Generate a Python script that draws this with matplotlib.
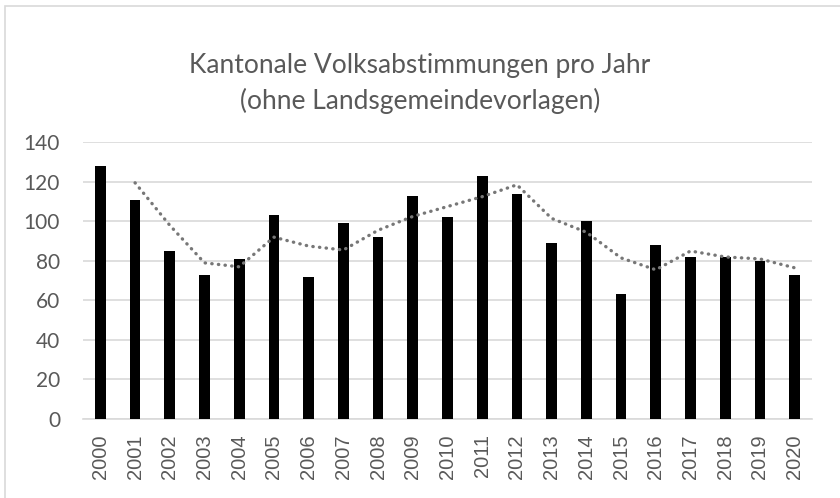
import matplotlib.pyplot as plt
from matplotlib.patches import Rectangle

years = [str(y) for y in range(2000, 2021)]
votes = [128, 111, 85, 73, 81, 103, 72, 99, 92, 113, 102,
         123, 114, 89, 100, 63, 88, 82, 82, 80, 73]
# gleitender Durchschnitt (2 Perioden), ab 2001
trend_years = years[1:]
trend = [119.5, 98, 79, 77, 92, 87.5, 85.5, 95.5, 102.5, 107.5,
         112.5, 118.5, 101.5, 94.5, 81.5, 75.5, 85, 82, 81, 76.5]

W, H = 840, 498
fig = plt.figure(figsize=(W / 100, H / 100), dpi=100)

# Rahmen (nur oben und links sichtbar)
fig.patches.append(Rectangle((5 / W, -0.1), 1.2, 1.1 - 6.5 / H,
                             transform=fig.transFigure, fill=False,
                             edgecolor='#d9d9d9', lw=1.2))

ax = fig.add_axes([83 / W, (H - 419) / H, (812 - 83) / W, (419 - 142.3) / H])
x = range(len(years))
ax.bar(x, votes, width=0.31, color='black', zorder=3)
ax.plot([years.index(y) for y in trend_years], trend, color='#777777',
        lw=2.4, linestyle=(0, (0.1, 1.9)), dash_capstyle='round', zorder=4)

ax.set_ylim(0, 140)
ax.set_xlim(-0.5, len(years) - 0.5)
ax.set_yticks(range(0, 141, 20))
ax.grid(axis='y', color='#d9d9d9', lw=1.2, zorder=0)
for s in ['top', 'right', 'left']:
    ax.spines[s].set_visible(False)
ax.spines['bottom'].set_color('#d9d9d9')
ax.spines['bottom'].set_linewidth(1.2)
ax.tick_params(length=0)
ax.tick_params(axis='y', pad=16.5, labelcolor='#595959')
ax.tick_params(axis='x', pad=11, labelcolor='#595959')
ax.set_xticks(list(x))
ax.set_xticklabels(years, rotation=90, family='Liberation Sans', fontsize=14.5)
for lab in ax.get_yticklabels():
    lab.set_family('Lato')
    lab.set_fontsize(15)

fig.text(0.5, 1 - 66 / H, 'Kantonale Volksabstimmungen pro Jahr', ha='center',
         va='center', family='Lato', fontsize=19, color='#595959')
fig.text(0.5, 1 - 101 / H, '(ohne Landsgemeindevorlagen)', ha='center',
         va='center', family='Lato', fontsize=19, color='#595959')

fig.savefig('out.png', dpi=100)
